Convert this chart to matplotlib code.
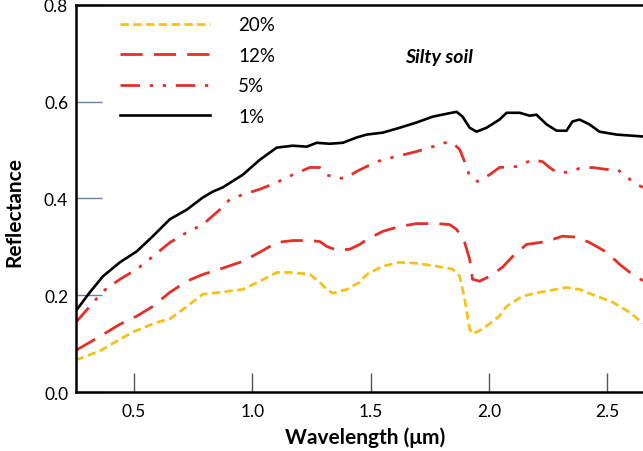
import matplotlib
matplotlib.use('Agg')
import matplotlib.pyplot as plt

plt.rcParams['font.family'] = ['Lato', 'DejaVu Sans']

# spectra (wavelength in um, reflectance)
wl_1 = [0.251, 0.314, 0.369, 0.441, 0.513, 0.580, 0.652, 0.724, 0.791, 0.833, 0.876, 0.960,
        1.032, 1.103, 1.171, 1.230, 1.272, 1.327, 1.382, 1.441, 1.483, 1.551, 1.622, 1.694,
        1.762, 1.821, 1.863, 1.888, 1.918, 1.947, 1.989, 2.044, 2.074, 2.129, 2.171, 2.200,
        2.243, 2.285, 2.327, 2.352, 2.382, 2.424, 2.466, 2.538, 2.650]
refl_1 = [0.165, 0.206, 0.239, 0.268, 0.291, 0.322, 0.357, 0.377, 0.402, 0.414, 0.423, 0.449,
          0.480, 0.505, 0.509, 0.507, 0.515, 0.513, 0.515, 0.526, 0.532, 0.536, 0.546, 0.557,
          0.569, 0.575, 0.579, 0.569, 0.546, 0.538, 0.546, 0.563, 0.577, 0.577, 0.571, 0.573,
          0.553, 0.540, 0.540, 0.559, 0.563, 0.553, 0.538, 0.532, 0.528]

wl_5 = [0.255, 0.314, 0.369, 0.441, 0.513, 0.580, 0.652, 0.724, 0.791, 0.863, 0.905, 0.960,
        1.032, 1.103, 1.171, 1.243, 1.285, 1.314, 1.357, 1.399, 1.441, 1.525, 1.593, 1.694,
        1.762, 1.804, 1.846, 1.876, 1.905, 1.918, 1.951, 2.002, 2.044, 2.116, 2.184, 2.226,
        2.255, 2.285, 2.327, 2.382, 2.437, 2.496, 2.542, 2.580, 2.622, 2.650]
refl_5 = [0.144, 0.177, 0.208, 0.233, 0.254, 0.280, 0.309, 0.330, 0.346, 0.377, 0.398, 0.408,
          0.419, 0.433, 0.449, 0.464, 0.464, 0.449, 0.441, 0.443, 0.456, 0.476, 0.485, 0.497,
          0.507, 0.515, 0.515, 0.501, 0.466, 0.445, 0.435, 0.449, 0.464, 0.466, 0.480, 0.476,
          0.464, 0.454, 0.454, 0.462, 0.464, 0.460, 0.460, 0.445, 0.429, 0.423]

wl_12 = [0.255, 0.357, 0.441, 0.513, 0.580, 0.652, 0.724, 0.791, 0.863, 0.960, 1.032, 1.103,
         1.171, 1.243, 1.285, 1.314, 1.357, 1.411, 1.454, 1.483, 1.551, 1.622, 1.694, 1.778,
         1.833, 1.863, 1.897, 1.918, 1.930, 1.960, 2.002, 2.057, 2.099, 2.158, 2.243, 2.310,
         2.369, 2.424, 2.496, 2.551, 2.605, 2.650]
refl_12 = [0.086, 0.115, 0.140, 0.157, 0.177, 0.206, 0.229, 0.243, 0.254, 0.270, 0.289, 0.309,
           0.313, 0.313, 0.311, 0.301, 0.293, 0.295, 0.305, 0.315, 0.332, 0.342, 0.348, 0.348,
           0.346, 0.336, 0.309, 0.274, 0.233, 0.229, 0.239, 0.258, 0.280, 0.305, 0.311, 0.322,
           0.320, 0.309, 0.289, 0.264, 0.243, 0.230]

wl_20 = [0.255, 0.357, 0.441, 0.496, 0.597, 0.652, 0.724, 0.791, 0.863, 0.960, 1.032, 1.103,
         1.171, 1.243, 1.285, 1.314, 1.340, 1.399, 1.454, 1.483, 1.551, 1.622, 1.694, 1.778,
         1.846, 1.876, 1.897, 1.918, 1.930, 1.973, 2.044, 2.074, 2.141, 2.213, 2.327, 2.382,
         2.454, 2.521, 2.593, 2.650]
refl_20 = [0.066, 0.085, 0.109, 0.124, 0.144, 0.151, 0.177, 0.202, 0.206, 0.212, 0.229, 0.247,
           0.247, 0.243, 0.227, 0.212, 0.204, 0.212, 0.227, 0.243, 0.260, 0.268, 0.266, 0.260,
           0.254, 0.239, 0.192, 0.130, 0.120, 0.130, 0.157, 0.177, 0.198, 0.206, 0.216, 0.212,
           0.198, 0.186, 0.165, 0.142]

labels = ['20%', '12%', '5%', '1%']
x_ticks = [0.5, 1.0, 1.5, 2.0, 2.5]
y_ticks = [0.0, 0.2, 0.4, 0.6, 0.8]

fig = plt.figure(figsize=(6.43, 4.52), dpi=100)
ax = fig.add_axes([0.118, 0.1305, 0.882, 0.8565])

ax.plot(wl_20, refl_20, color='#f5c21b', lw=2, linestyle=(0, (3, 1.6)), label=labels[0])
ax.plot(wl_12, refl_12, color='#e5302a', lw=2, linestyle=(0, (8, 4)), label=labels[1])
ax.plot(wl_5, refl_5, color='#e5302a', lw=2,
        linestyle=(0, (7, 3.5, 1.2, 3.5, 1.2, 3.5)), label=labels[2])
ax.plot(wl_1, refl_1, color='black', lw=1.9, label=labels[3])

ax.set_xlim(0.255, 2.65)
ax.set_ylim(0, 0.8)
ax.set_xticks(x_ticks)
ax.set_xticklabels(['%.1f' % v for v in x_ticks])
ax.set_yticks(y_ticks)
ax.set_yticklabels(['%.1f' % v for v in y_ticks])
ax.tick_params(axis='y', direction='in', length=19, width=1, color='#5f84ad',
               labelsize=12.5, pad=5.5)
ax.tick_params(axis='x', direction='in', length=14, width=1, color='#555555',
               labelsize=12.5, pad=8)

for side in ['left', 'bottom', 'top']:
    ax.spines[side].set_linewidth(1.8)
ax.spines['right'].set_visible(False)

ax.set_xlabel('Wavelength (\u03bcm)', fontsize=15, fontweight='bold')
ax.xaxis.set_label_coords(0.51, -0.09)
ax.set_ylabel('Reflectance', fontsize=15, fontweight='bold')
ax.yaxis.set_label_coords(-0.09, 0.468)

ax.text(1.79, 0.693, 'Silty soil', fontsize=14, fontweight='bold', style='italic',
        ha='center', va='center')

ax.legend(loc='upper left', bbox_to_anchor=(0.078, 0.97), frameon=False, fontsize=13.5,
          handlelength=4.8, handletextpad=1.5, labelspacing=0.72, borderpad=0,
          borderaxespad=0)

plt.savefig('out.png', dpi=100)
